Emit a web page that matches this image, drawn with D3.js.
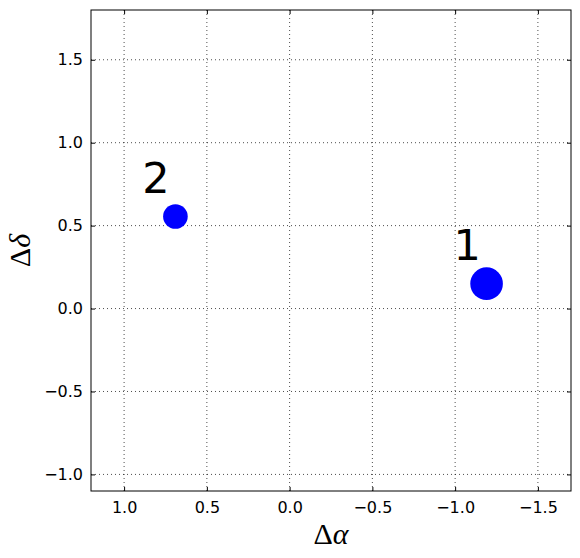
<!DOCTYPE html>
<html>
<head>
<meta charset="utf-8">
<script src="https://cdn.jsdelivr.net/npm/d3@7"></script>
<style>
  body { margin: 0; background: #fff; }
</style>
</head>
<body>
<div id="chart-area"></div>
<script>
// source data
var names = ['1', '2'];
var dAlpha = [-1.19, 0.69];
var dDelta = [0.15, 0.555];
var weight = [1.0, 0.57];
// label anchor offsets in data units
var labelDx = [0.2, 0.2];
var labelDy = [0.14, 0.14];

var xTicks = [1.0, 0.5, 0.0, -0.5, -1.0, -1.5];
var yTicks = [-1.0, -0.5, 0.0, 0.5, 1.0, 1.5];

var margin = { left: 91, right: 9, top: 10, bottom: 67 };
var width = 580 - margin.left - margin.right;
var height = 558 - margin.top - margin.bottom;

var data = names.map((n, i) => ({
    name: n, x: dAlpha[i], y: dDelta[i], w: weight[i],
    lx: dAlpha[i] + labelDx[i], ly: dDelta[i] + labelDy[i]
}));

var svg = d3.select('#chart-area')
    .append('svg')
    .attr('width', 580)
    .attr('height', 558);

var g = svg.append('g')
    .attr('transform', 'translate(' + margin.left + ', ' + margin.top + ')');

var x = d3.scaleLinear().domain([1.2, -1.7]).range([0, width]);
var y = d3.scaleLinear().domain([-1.1, 1.8]).range([height, 0]);
var r = d3.scaleSqrt().domain([0, 1]).range([0, 16.3]);

var fmt = d => d3.format('.1f')(d).replace('-', '\u2212');

// grid
g.append('g').selectAll('line').data(xTicks).enter().append('line')
    .attr('x1', d => x(d)).attr('x2', d => x(d))
    .attr('y1', 0).attr('y2', height)
    .attr('stroke', '#000').attr('stroke-width', 0.7)
    .attr('stroke-dasharray', '1,3');
g.append('g').selectAll('line').data(yTicks).enter().append('line')
    .attr('y1', d => y(d)).attr('y2', d => y(d))
    .attr('x1', 0).attr('x2', width)
    .attr('stroke', '#000').attr('stroke-width', 0.7)
    .attr('stroke-dasharray', '1,3');

// axes, ticks pointing inward
var xAxisGroup = g.append('g')
    .attr('transform', `translate(0, ${height})`)
    .call(d3.axisBottom(x).tickValues(xTicks).tickFormat(fmt).tickSizeInner(-4).tickSizeOuter(0).tickPadding(11));
var xTopGroup = g.append('g')
    .call(d3.axisTop(x).tickValues(xTicks).tickFormat('').tickSizeInner(-4).tickSizeOuter(0));
var yAxisGroup = g.append('g')
    .call(d3.axisLeft(y).tickValues(yTicks).tickFormat(fmt).tickSizeInner(-4).tickSizeOuter(0).tickPadding(8));
var yRightGroup = g.append('g')
    .attr('transform', `translate(${width}, 0)`)
    .call(d3.axisRight(y).tickValues(yTicks).tickFormat('').tickSizeInner(-4).tickSizeOuter(0));

[xAxisGroup, xTopGroup, yAxisGroup, yRightGroup].forEach(a => {
    a.select('.domain').remove();
    a.attr('font-family', 'DejaVu Sans, sans-serif').attr('font-size', 16);
    a.selectAll('.tick line').attr('stroke', '#000');
    a.selectAll('.tick text').attr('fill', '#000');
});

// frame
g.append('rect')
    .attr('width', width).attr('height', height)
    .attr('fill', 'none').attr('stroke', '#000').attr('stroke-width', 1);

// points
g.selectAll('circle.pt').data(data).enter().append('circle')
    .attr('class', 'pt')
    .attr('cx', d => x(d.x))
    .attr('cy', d => y(d.y))
    .attr('r', d => r(d.w))
    .attr('fill', '#0000ff');

// point labels
g.selectAll('text.lbl').data(data).enter().append('text')
    .attr('class', 'lbl')
    .attr('x', d => x(d.lx))
    .attr('y', d => y(d.ly))
    .attr('font-family', 'DejaVu Sans, sans-serif')
    .attr('font-size', '43px')
    .attr('fill', '#000')
    .text(d => d.name);

// axis labels
var xLabel = g.append('text')
    .attr('x', width / 2)
    .attr('y', height + 53)
    .attr('text-anchor', 'middle')
    .attr('font-family', 'Liberation Serif, serif')
    .attr('font-size', '30px');
xLabel.append('tspan').text('\u0394');
xLabel.append('tspan').attr('font-style', 'italic').text('\u03b1');

var yLabel = g.append('text')
    .attr('transform', `translate(-61, ${height / 2}) rotate(-90)`)
    .attr('text-anchor', 'middle')
    .attr('font-family', 'Liberation Serif, serif')
    .attr('font-size', '30px');
yLabel.append('tspan').text('\u0394');
yLabel.append('tspan').attr('font-style', 'italic').text('\u03b4');
</script>
</body>
</html>
